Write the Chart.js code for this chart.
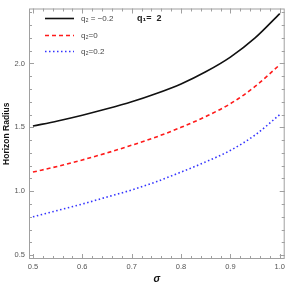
<!DOCTYPE html>
<html>
<head>
<meta charset="utf-8">
<script src="https://cdn.jsdelivr.net/npm/chart.js@4"></script>
<style>
  html, body { margin: 0; padding: 0; background: #fff; }
  #wrap { width: 288px; height: 287px; }
</style>
</head>
<body>
<div id="wrap"><canvas id="horizonChart"></canvas></div>
<script>
const sigma = [0.5, 0.55, 0.6, 0.65, 0.7, 0.75, 0.8, 0.85, 0.9, 0.95, 1.0];
const radiusNeg = [1.51, 1.55, 1.595, 1.645, 1.70, 1.765, 1.84, 1.935, 2.05, 2.20, 2.39];
const radiusZero = [1.15, 1.195, 1.245, 1.30, 1.36, 1.425, 1.50, 1.585, 1.685, 1.82, 1.99];
const radiusPos = [0.80, 0.85, 0.90, 0.955, 1.01, 1.075, 1.15, 1.23, 1.32, 1.44, 1.60];
const seriesLabels = ['q\u2082 = \u22120.2', 'q\u2082=0', 'q\u2082=0.2'];
const xTicks = [0.5, 0.6, 0.7, 0.8, 0.9, 1.0];
const yTicks = [0.5, 1.0, 1.5, 2.0];

const FONT = '"Liberation Sans", Arial, sans-serif';
const FRAME = '#a0a0a0';

function toPoints(ys) {
    return sigma.map((x, i) => ({ x: x, y: ys[i] }));
}

// frame, inward ticks, legend and q1 note
const decorPlugin = {
    id: 'decor',
    afterDraw(chart) {
        const ctx = chart.ctx;
        const a = chart.chartArea;
        const xs = chart.scales.x;
        const ys = chart.scales.y;
        ctx.save();
        ctx.strokeStyle = FRAME;
        ctx.lineWidth = 1;
        ctx.strokeRect(a.left + 0.5, a.top + 0.5, a.right - a.left - 1, a.bottom - a.top - 1);

        ctx.beginPath();
        for (let i = 0; i <= 30; i++) {
            const v = 0.44 + i * 0.02;
            if (v < xs.min || v > xs.max) continue;
            const px = Math.round(xs.getPixelForValue(v)) + 0.5;
            const major = Math.abs(v * 10 - Math.round(v * 10)) < 1e-6;
            const len = major ? 5 : 3;
            ctx.moveTo(px, a.bottom); ctx.lineTo(px, a.bottom - len);
            ctx.moveTo(px, a.top); ctx.lineTo(px, a.top + len);
        }
        for (let i = 0; i <= 25; i++) {
            const v = 0.4 + i * 0.1;
            if (v < ys.min || v > ys.max) continue;
            const py = Math.round(ys.getPixelForValue(v)) + 0.5;
            const major = Math.abs(v * 2 - Math.round(v * 2)) < 1e-6;
            const len = major ? 5 : 3;
            ctx.moveTo(a.left, py); ctx.lineTo(a.left + len, py);
            ctx.moveTo(a.right, py); ctx.lineTo(a.right - len, py);
        }
        ctx.stroke();

        // legend
        const rows = [18, 35, 51];
        ctx.font = '8px ' + FONT;
        ctx.textBaseline = 'middle';
        chart.data.datasets.forEach((ds, i) => {
            const y = rows[i] + 0.5;
            ctx.strokeStyle = ds.borderColor;
            ctx.lineWidth = ds.borderWidth;
            ctx.setLineDash(ds.borderDash || []);
            ctx.beginPath();
            ctx.moveTo(45, y); ctx.lineTo(74, y);
            ctx.stroke();
            ctx.setLineDash([]);
            ctx.fillStyle = '#444';
            ctx.fillText(ds.label, 81, y);
        });

        ctx.fillStyle = '#222';
        ctx.font = 'bold 9px ' + FONT;
        ctx.fillText('q\u2081=  2', 137, 18.5);
        ctx.restore();
    }
};

new Chart(document.getElementById('horizonChart'), {
    type: 'line',
    data: {
        datasets: [{
            label: seriesLabels[0],
            data: toPoints(radiusNeg),
            borderColor: '#111',
            borderWidth: 1.6,
            cubicInterpolationMode: 'monotone',
            pointRadius: 0
        }, {
            label: seriesLabels[1],
            data: toPoints(radiusZero),
            borderColor: '#ff1a1a',
            borderWidth: 1.6,
            borderDash: [4, 3],
            cubicInterpolationMode: 'monotone',
            pointRadius: 0
        }, {
            label: seriesLabels[2],
            data: toPoints(radiusPos),
            borderColor: '#3333ff',
            borderWidth: 1.6,
            borderDash: [1.5, 2.5],
            cubicInterpolationMode: 'monotone',
            pointRadius: 0
        }]
    },
    options: {
        responsive: true,
        maintainAspectRatio: false,
        animation: false,
        layout: { padding: { top: 1, right: 1, left: 0, bottom: 0 } },
        plugins: { legend: { display: false }, tooltip: { enabled: false } },
        scales: {
            x: {
                type: 'linear',
                min: 0.492,
                max: 1.01,
                grid: { display: false, drawTicks: false },
                border: { display: false },
                afterBuildTicks: (s) => { s.ticks = xTicks.map(v => ({ value: v })); },
                afterFit: (s) => { s.height = 28; },
                ticks: {
                    color: '#555',
                    font: { family: FONT, size: 7.5 },
                    padding: 3,
                    maxRotation: 0,
                    callback: (v) => v.toFixed(1)
                },
                title: {
                    display: true,
                    text: '\u03c3',
                    color: '#111',
                    font: { family: FONT, size: 10, weight: 'bold', style: 'italic' },
                    padding: { top: 0, bottom: 2 }
                }
            },
            y: {
                min: 0.47,
                max: 2.43,
                grid: { display: false, drawTicks: false },
                border: { display: false },
                afterBuildTicks: (s) => { s.ticks = yTicks.map(v => ({ value: v })); },
                afterFit: (s) => { s.width = 29; },
                ticks: {
                    color: '#555',
                    font: { family: FONT, size: 7.5 },
                    padding: 4,
                    callback: (v) => v.toFixed(1)
                },
                title: {
                    display: true,
                    text: 'Horizon Radius',
                    color: '#111',
                    font: { family: FONT, size: 8.5, weight: 'bold' },
                    padding: { top: 2, bottom: 0 }
                }
            }
        }
    },
    plugins: [decorPlugin]
});
</script>
</body>
</html>
